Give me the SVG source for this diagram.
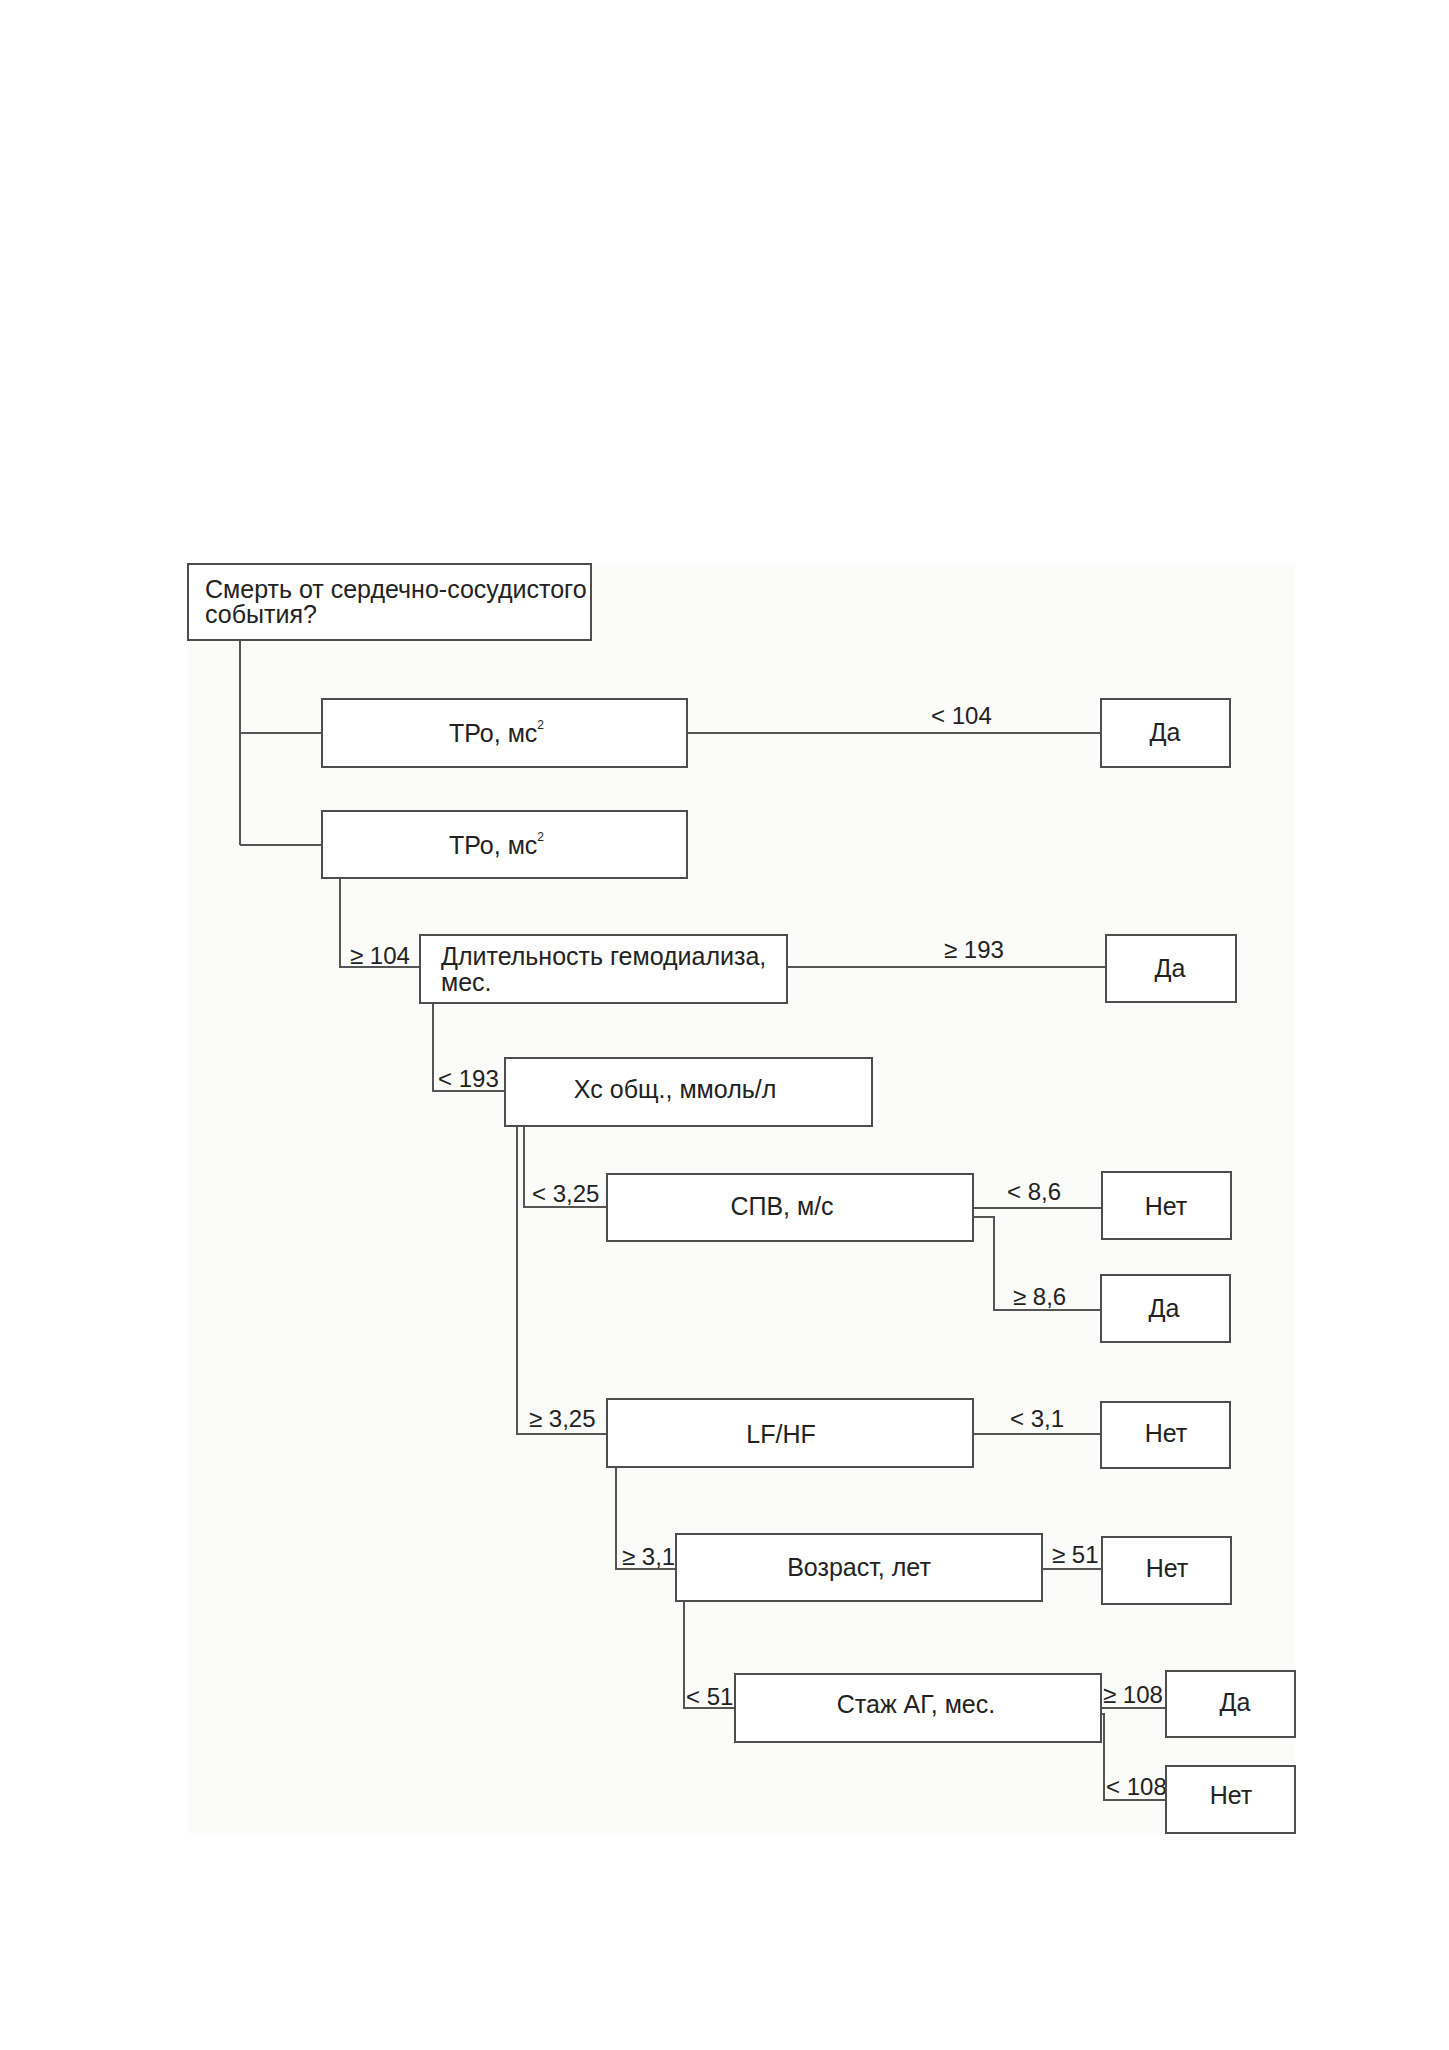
<svg xmlns="http://www.w3.org/2000/svg" width="1449" height="2050" viewBox="0 0 1449 2050">
<style>
.bg{fill:#fbfbfa}
.box{fill:#ffffff;stroke:#4d4d4d;stroke-width:2}
.t{font-family:"Liberation Sans",Arial,sans-serif;font-size:25px;fill:#222}
.c{text-anchor:middle}
.lbl{font-family:"Liberation Sans",Arial,sans-serif;font-size:24px;fill:#222}
.ln{fill:none;stroke:#555;stroke-width:2}
</style>
<rect x="0" y="0" width="1449" height="2050" fill="#ffffff"/>
<rect class="bg" x="188" y="563" width="1107" height="1270"/>

<g id="connectors">
<path class="ln" d="M240,640 V845 M240,733 H322 M240,845 H322"/>
<path class="ln" d="M687,733 H1101"/>
<path class="ln" d="M340,878 V967 H420"/>
<path class="ln" d="M787,967 H1106"/>
<path class="ln" d="M433,1003 V1091 H505"/>
<path class="ln" d="M524,1126 V1207 H607"/>
<path class="ln" d="M517,1126 V1434 H607"/>
<path class="ln" d="M973,1208 H1102"/>
<path class="ln" d="M973,1217 H994 V1310 H1101"/>
<path class="ln" d="M973,1434 H1101"/>
<path class="ln" d="M616,1467 V1569 H676"/>
<path class="ln" d="M1042,1569 H1102"/>
<path class="ln" d="M684,1601 V1708 H735"/>
<path class="ln" d="M1101,1708 H1166"/>
<path class="ln" d="M1101,1714 H1104 V1800 H1166"/>
<text class="lbl" x="931" y="724">&lt; 104</text>
<text class="lbl" x="350" y="964">≥ 104</text>
<text class="lbl" x="944" y="958">≥ 193</text>
<text class="lbl" x="438" y="1087">&lt; 193</text>
<text class="lbl" x="532" y="1202">&lt; 3,25</text>
<text class="lbl" x="529" y="1427">≥ 3,25</text>
<text class="lbl" x="1007" y="1200">&lt; 8,6</text>
<text class="lbl" x="1013" y="1305">≥ 8,6</text>
<text class="lbl" x="1010" y="1427">&lt; 3,1</text>
<text class="lbl" x="622" y="1565">≥ 3,1</text>
<text class="lbl" x="1052" y="1563">≥ 51</text>
<text class="lbl" x="686" y="1705">&lt; 51</text>
<text class="lbl" x="1103" y="1703">≥ 108</text>
<text class="lbl" x="1106" y="1795">&lt; 108</text>
</g>

<g id="root">
<rect class="box" x="188" y="564" width="403" height="76"/>
<text class="t" x="205" y="598">Смерть от сердечно-сосудистого</text>
<text class="t" x="205" y="623">события?</text>
</g>
<g id="tpo1">
<rect class="box" x="322" y="699" width="365" height="68"/>
<text class="t" x="449" y="742">ТРо, мс<tspan font-size="12" dy="-13">2</tspan></text>
</g>
<g id="da1">
<rect class="box" x="1101" y="699" width="129" height="68"/>
<text class="t c" x="1165" y="741">Да</text>
</g>
<g id="tpo2">
<rect class="box" x="322" y="811" width="365" height="67"/>
<text class="t" x="449" y="854">ТРо, мс<tspan font-size="12" dy="-13">2</tspan></text>
</g>
<g id="dlit">
<rect class="box" x="420" y="935" width="367" height="68"/>
<text class="t" x="441" y="965">Длительность гемодиализа,</text>
<text class="t" x="441" y="991">мес.</text>
</g>
<g id="da2">
<rect class="box" x="1106" y="935" width="130" height="67"/>
<text class="t c" x="1170" y="977">Да</text>
</g>
<g id="xc">
<rect class="box" x="505" y="1058" width="367" height="68"/>
<text class="t c" x="675" y="1098">Хс общ., ммоль/л</text>
</g>
<g id="spv">
<rect class="box" x="607" y="1174" width="366" height="67"/>
<text class="t c" x="782" y="1215">СПВ, м/с</text>
</g>
<g id="net1">
<rect class="box" x="1102" y="1172" width="129" height="67"/>
<text class="t c" x="1166" y="1215">Нет</text>
</g>
<g id="da3">
<rect class="box" x="1101" y="1275" width="129" height="67"/>
<text class="t c" x="1164" y="1317">Да</text>
</g>
<g id="lfhf">
<rect class="box" x="607" y="1399" width="366" height="68"/>
<text class="t c" x="781" y="1443">LF/HF</text>
</g>
<g id="net2">
<rect class="box" x="1101" y="1402" width="129" height="66"/>
<text class="t c" x="1166" y="1442">Нет</text>
</g>
<g id="vozrast">
<rect class="box" x="676" y="1534" width="366" height="67"/>
<text class="t c" x="859" y="1576">Возраст, лет</text>
</g>
<g id="net3">
<rect class="box" x="1102" y="1537" width="129" height="67"/>
<text class="t c" x="1167" y="1577">Нет</text>
</g>
<g id="stazh">
<rect class="box" x="735" y="1674" width="366" height="68"/>
<text class="t c" x="916" y="1713">Стаж АГ, мес.</text>
</g>
<g id="da4">
<rect class="box" x="1166" y="1671" width="129" height="66"/>
<text class="t c" x="1235" y="1711">Да</text>
</g>
<g id="net4">
<rect class="box" x="1166" y="1766" width="129" height="67"/>
<text class="t c" x="1231" y="1804">Нет</text>
</g>
</svg>
